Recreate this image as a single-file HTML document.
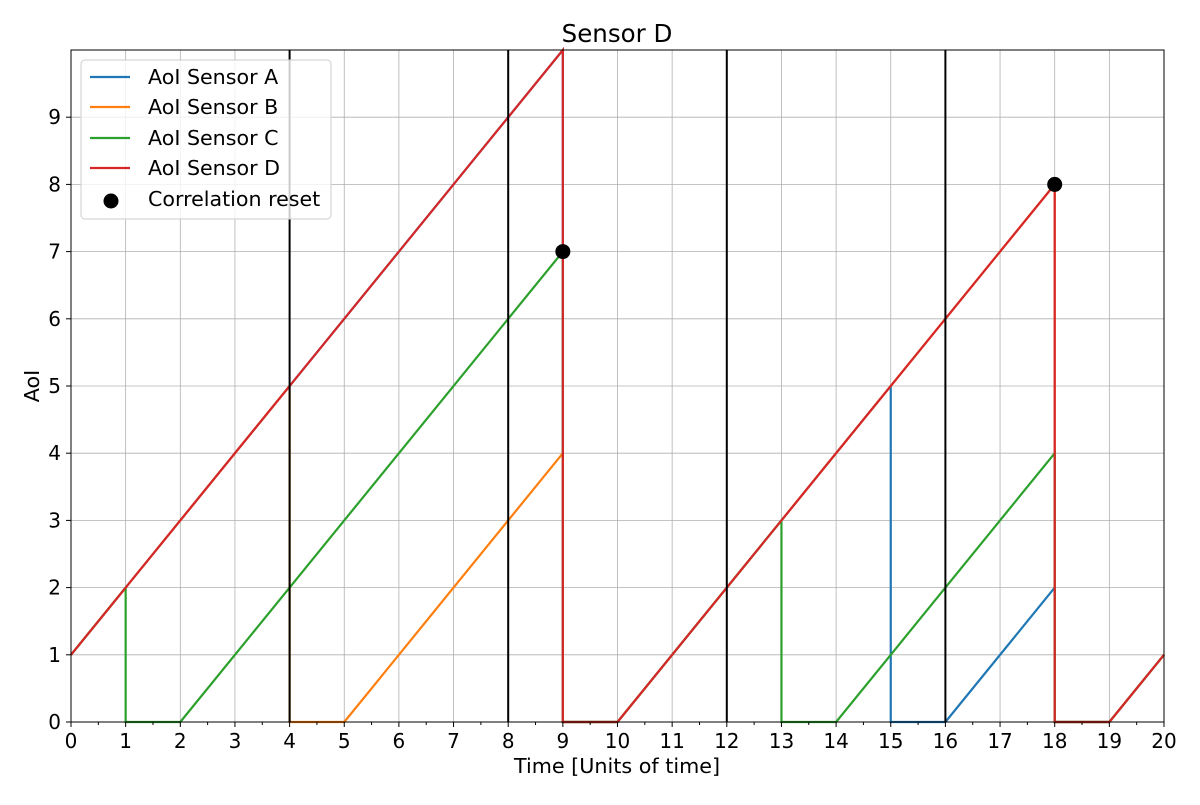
<!DOCTYPE html>
<html><head><meta charset="utf-8"><style>
body{margin:0;background:#fff;}
svg text{font-family:"DejaVu Sans","Liberation Sans",sans-serif;fill:#000;}
</style></head><body>
<svg id="chart" width="1200" height="800" xmlns="http://www.w3.org/2000/svg"></svg>
<script>
const xTicks=[0,1,2,3,4,5,6,7,8,9,10,11,12,13,14,15,16,17,18,19,20];
const yTicks=[0,1,2,3,4,5,6,7,8,9];
const seriesNames=["AoI Sensor A","AoI Sensor B","AoI Sensor C","AoI Sensor D"];
const seriesColors=["#1f77b4","#ff7f0e","#2ca02c","#d62728"];
const aT=[0,9,9,10,15,15,16,18,18,19,20];
const aV=[1,10,0,0,5,0,0,2,0,0,1];
const bT=[0,4,4,5,9,9,10,18,18,19,20];
const bV=[1,5,0,0,4,0,0,8,0,0,1];
const cT=[0,1,1,2,9,9,10,13,13,14,18,18,19,20];
const cV=[1,2,0,0,7,0,0,3,0,0,4,0,0,1];
const dT=[0,9,9,10,18,18,19,20];
const dV=[1,10,0,0,8,0,0,1];
const syncLines=[4,8,12,16];
const resetT=[9,18];
const resetV=[7,8];

const L=71,R=1164,T=50,B=722;
const sx=t=>L+(t-0)/(20-0)*(R-L);
const sy=v=>B-(v-0)/(10-0)*(B-T);
const svg=document.getElementById('chart');
const NS="http://www.w3.org/2000/svg";
function mk(tag,attrs,parent){const e=document.createElementNS(NS,tag);for(const k in attrs)e.setAttribute(k,attrs[k]);(parent||svg).appendChild(e);return e;}

xTicks.forEach(t=>{const l=mk('line',{x1:sx(t),x2:sx(t),y1:T,y2:B,stroke:'#b0b0b0','stroke-width':0.8});

});
yTicks.forEach(v=>{const l=mk('line',{x1:L,x2:R,y1:sy(v),y2:sy(v),stroke:'#b0b0b0','stroke-width':0.8});

});

const allT=[aT,bT,cT,dT],allV=[aV,bV,cV,dV];
allT.forEach((ts,i)=>{const pts=ts.map((t,j)=>sx(t)+','+sy(allV[i][j])).join(' ');
const p=mk('polyline',{points:pts,fill:'none',stroke:seriesColors[i],'stroke-width':2.2});

});

syncLines.forEach(t=>{const l=mk('line',{x1:sx(t),x2:sx(t),y1:T,y2:B,stroke:'#000','stroke-width':2});

});

resetT.forEach((t,i)=>{const c=mk('circle',{cx:sx(t),cy:sy(resetV[i]),r:7.5,fill:'#000'});

});

const fr=mk('rect',{x:L,y:T,width:R-L,height:B-T,fill:'none',stroke:'#000','stroke-width':1});



xTicks.forEach(t=>{mk('line',{x1:sx(t),x2:sx(t),y1:B,y2:B+5,stroke:'#000'});
const tx=mk('text',{x:sx(t),y:B+26,'text-anchor':'middle','font-size':20});tx.textContent=t;


if(t<20){mk('line',{x1:sx(t+0.5),x2:sx(t+0.5),y1:B,y2:B+3,stroke:'#000'});}});
yTicks.forEach(v=>{mk('line',{x1:L-5,x2:L,y1:sy(v),y2:sy(v),stroke:'#000'});
const tx=mk('text',{x:L-10,y:sy(v)+7,'text-anchor':'end','font-size':20});tx.textContent=v;

});
</script>
<svg width="1200" height="800" style="position:absolute;left:0;top:0">
<text x="617" y="42" text-anchor="middle" font-size="24.5">Sensor D</text>
<text x="617" y="773" text-anchor="middle" font-size="20.7">Time [Units of time]</text>
<text x="39" y="386" text-anchor="middle" font-size="20.7" transform="rotate(-90 39 386)">AoI</text>
<g>
<rect x="81" y="60" width="250" height="159" rx="4" fill="#fff" fill-opacity="0.8" stroke="#ccc"/>
<g><line x1="90" x2="130" y1="77" y2="77" stroke="#1f77b4" stroke-width="2.2"/><text x="148" y="84" font-size="20.6">AoI Sensor A</text></g>
<g><line x1="90" x2="130" y1="107" y2="107" stroke="#ff7f0e" stroke-width="2.2"/><text x="148" y="114" font-size="20.6">AoI Sensor B</text></g>
<g><line x1="90" x2="130" y1="138" y2="138" stroke="#2ca02c" stroke-width="2.2"/><text x="148" y="145" font-size="20.6">AoI Sensor C</text></g>
<g><line x1="90" x2="130" y1="168" y2="168" stroke="#d62728" stroke-width="2.2"/><text x="148" y="175" font-size="20.6">AoI Sensor D</text></g>
<g><circle cx="111" cy="201" r="7.5" fill="#000"/><text x="148" y="206" font-size="20.6">Correlation reset</text></g>
</g>
</svg>
</body></html>
